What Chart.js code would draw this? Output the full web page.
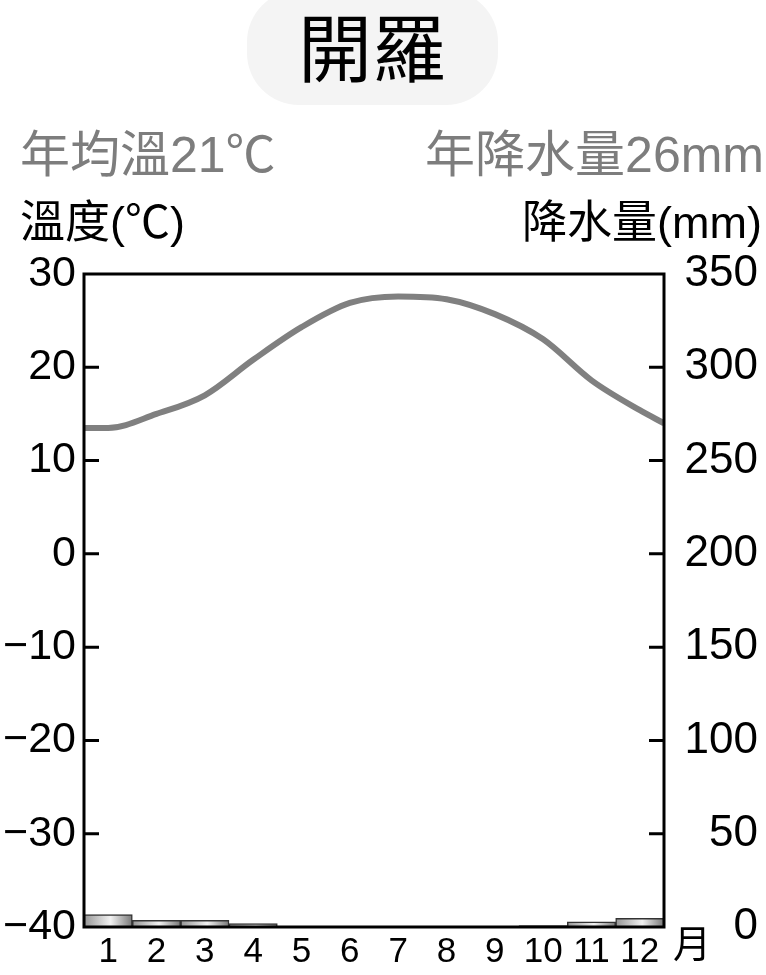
<!DOCTYPE html>
<html>
<head>
<meta charset="utf-8">
<script src="https://cdn.jsdelivr.net/npm/chart.js@4/dist/chart.umd.min.js"></script>
<style>
  body { margin: 0; background: #fff; }
  #wrap { width: 766px; height: 975px; }
</style>
</head>
<body>
<div id="wrap"><canvas id="climate" width="766" height="975"></canvas></div>
<script>
// data
const city = '開羅';
const months = [1, 2, 3, 4, 5, 6, 7, 8, 9, 10, 11, 12];
const temps = [13.5, 15.0, 17.0, 20.8, 24.3, 26.9, 27.6, 27.3, 25.7, 23.0, 18.6, 15.4];
const tempEnds = [13.5, 14.0]; // curve at left / right plot sides
const rain = [6.6, 3.6, 3.6, 1.8, 0.2, 0, 0, 0, 0, 0.7, 2.8, 4.7];
const tempTicks = [30, 20, 10, 0, -10, -20, -30, -40];
const rainTicks = [350, 300, 250, 200, 150, 100, 50, 0];
const yearTemp = '年均溫21℃';
const yearRain = '年降水量26mm';

const FONT = "'Liberation Sans', 'Noto Sans CJK TC', sans-serif";

const tempData = [{x: 0.5, y: tempEnds[0]}]
  .concat(months.map((m, i) => ({x: m, y: temps[i]})))
  .concat([{x: 12.5, y: tempEnds[1]}]);

function barFill(ctx) {
  const chart = ctx.chart;
  if (!chart.chartArea || !ctx.raw) return '#bbb';
  const sx = chart.scales.x;
  const l = sx.getPixelForValue(ctx.raw.x - 0.5);
  const r = sx.getPixelForValue(ctx.raw.x + 0.5);
  const g = chart.ctx.createLinearGradient(l, 0, r, 0);
  g.addColorStop(0, '#959595');
  g.addColorStop(0.55, '#f2f2f2');
  g.addColorStop(1, '#777');
  return g;
}

// titles, frame, inward ticks
const decor = {
  id: 'decor',
  beforeDraw(chart) {
    const c = chart.ctx;
    c.save();
    c.fillStyle = '#f4f4f4';
    c.beginPath();
    c.roundRect(247, -10, 251, 115, 52);
    c.fill();
    c.fillStyle = '#000';
    c.font = '74px ' + FONT;
    c.textAlign = 'center';
    c.textBaseline = 'middle';
    c.fillText(city, 372, 56);

    c.font = '50px ' + FONT;
    c.fillStyle = '#7d7d7d';
    c.textAlign = 'left';
    c.fillText(yearTemp, 20, 158);
    c.textAlign = 'right';
    c.fillText(yearRain, 764, 158);

    c.font = '45px ' + FONT;
    c.fillStyle = '#000';
    c.textAlign = 'left';
    c.fillText('溫度(℃)', 20, 226);
    c.textAlign = 'right';
    c.fillText('降水量(mm)', 762, 226);
    c.restore();
  },
  afterDraw(chart) {
    const c = chart.ctx;
    const a = chart.chartArea;
    const yl = chart.scales.y, yr = chart.scales.yR;
    c.save();
    c.strokeStyle = '#000';
    c.lineWidth = 3;
    c.beginPath();
    tempTicks.slice(1, -1).forEach(v => {
      const p = yl.getPixelForValue(v);
      c.moveTo(a.left, p); c.lineTo(a.left + 15, p);
    });
    rainTicks.slice(1, -1).forEach(v => {
      const p = yr.getPixelForValue(v);
      c.moveTo(a.right, p); c.lineTo(a.right - 15, p);
    });
    c.stroke();
    c.strokeRect(a.left, a.top, a.right - a.left, a.bottom - a.top);
    c.fillStyle = '#000';
    c.font = '38px ' + FONT;
    c.textAlign = 'center';
    c.textBaseline = 'middle';
    c.fillText('月', 692, 947);
    c.restore();
  }
};

new Chart(document.getElementById('climate'), {
  data: {
    datasets: [{
      type: 'bar',
      label: '降水量',
      data: months.map((m, i) => ({x: m, y: rain[i]})),
      yAxisID: 'yR',
      backgroundColor: barFill,
      borderColor: '#333',
      borderWidth: 1.5,
      barPercentage: 1,
      categoryPercentage: 1,
      order: 2,
    }, {
      type: 'line',
      label: '溫度',
      data: tempData,
      yAxisID: 'y',
      borderColor: '#808080',
      borderWidth: 6,
      pointRadius: 0,
      cubicInterpolationMode: 'monotone',
      order: 1,
    }],
  },
  options: {
    responsive: false,
    animation: false,
    layout: {padding: {top: 274, right: 8, left: 0, bottom: 0}},
    plugins: {legend: {display: false}, tooltip: {enabled: false}},
    scales: {
      x: {
        type: 'linear',
        min: 0.5,
        max: 12.5,
        offset: false,
        grid: {display: false, drawTicks: false},
        border: {display: false},
        afterBuildTicks: s => { s.ticks = months.map(v => ({value: v})); },
        afterFit: s => { s.height = 48; },
        ticks: {color: '#000', font: {family: FONT, size: 35}, padding: 4, maxRotation: 0, autoSkip: false},
      },
      y: {
        position: 'left',
        min: -40,
        max: 30,
        grid: {display: false, drawTicks: false},
        border: {display: false},
        afterBuildTicks: s => { s.ticks = tempTicks.map(v => ({value: v})); },
        afterFit: s => { s.width = 84; },
        ticks: {
          color: '#000', font: {family: FONT, size: 43}, padding: 8,
          callback: v => (v < 0 ? '\u2212' + Math.abs(v) : String(v)),
        },
      },
      yR: {
        position: 'right',
        min: 0,
        max: 350,
        grid: {display: false, drawTicks: false},
        border: {display: false},
        afterBuildTicks: s => { s.ticks = rainTicks.map(v => ({value: v})); },
        afterFit: s => { s.width = 94; },
        ticks: {color: '#000', font: {family: FONT, size: 44}, crossAlign: 'far'},
      },
    },
  },
  plugins: [decor],
});
</script>
</body>
</html>
